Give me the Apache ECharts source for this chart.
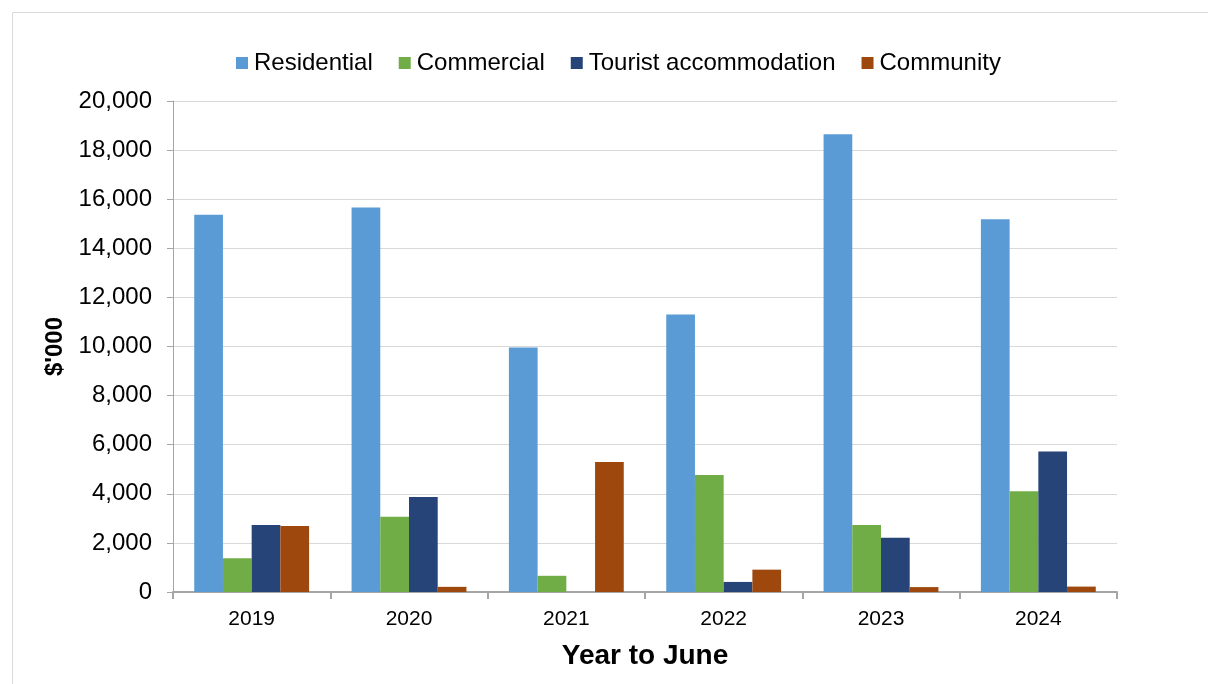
<!DOCTYPE html>
<html>
<head>
<meta charset="utf-8">
<title>Contributions by type, year to June</title>
<script src="https://cdn.jsdelivr.net/npm/echarts@6/dist/echarts.min.js"></script>
<style>
  html, body { margin: 0; padding: 0; background: #ffffff; }
  #chart { width: 1208px; height: 684px; }
</style>
</head>
<body>
<div id="chart"></div>
<script>
// Years (to June) along the category axis
const years = ['2019', '2020', '2021', '2022', '2023', '2024'];

// Values in $'000
const residential = [15370, 15660, 9960, 11300, 18650, 15180];
const commercial = [1370, 3070, 660, 4770, 2730, 4100];
const tourist = [2730, 3870, 0, 410, 2210, 5720];
const community = [2690, 210, 5300, 910, 200, 220];

const seriesNames = ['Residential', 'Commercial', 'Tourist accommodation', 'Community'];
const seriesColors = ['#5b9bd5', '#70ad47', '#264478', '#9e480e'];
const seriesValues = [residential, commercial, tourist, community];

const FONT = '"Liberation Sans", Arial, sans-serif';

const chart = echarts.init(document.getElementById('chart'), null, { renderer: 'canvas' });

chart.setOption({
  animation: false,
  backgroundColor: '#ffffff',
  textStyle: { fontFamily: FONT, color: '#000000' },
  graphic: [{
    type: 'rect',
    shape: { x: 12.5, y: 12.5, width: 1300, height: 800 },
    style: { fill: 'none', stroke: '#d9d9d9', lineWidth: 1 },
    silent: true,
    z: -1
  }],
  legend: {
    top: 46,
    left: 231,
    itemWidth: 12,
    itemHeight: 12,
    itemGap: 26,
    icon: 'rect',
    textStyle: { fontFamily: FONT, fontSize: 24, color: '#000000', padding: [0, 0, 0, 1] },
    data: seriesNames
  },
  grid: { left: 173, right: 91, top: 101, bottom: 92, containLabel: false },
  xAxis: {
    type: 'category',
    data: years,
    name: 'Year to June',
    nameLocation: 'middle',
    nameGap: 50,
    nameTextStyle: { fontFamily: FONT, fontSize: 28, fontWeight: 'bold', color: '#000000' },
    axisLine: { show: true, lineStyle: { color: '#a6a6a6', width: 2 } },
    axisTick: { show: true, length: 7, lineStyle: { color: '#a6a6a6', width: 2 } },
    axisLabel: { fontFamily: FONT, fontSize: 21, color: '#000000', margin: 17 }
  },
  yAxis: {
    type: 'value',
    min: 0,
    max: 20000,
    interval: 2000,
    name: "$'000",
    nameLocation: 'middle',
    nameGap: 103,
    nameRotate: 90,
    nameTextStyle: { fontFamily: FONT, fontSize: 24, fontWeight: 'bold', color: '#000000' },
    axisLine: { show: true, lineStyle: { color: '#a6a6a6', width: 1 } },
    axisTick: { show: true, length: 6, lineStyle: { color: '#a6a6a6' } },
    axisLabel: {
      fontFamily: FONT, fontSize: 24, color: '#000000', margin: 21,
      formatter: v => v.toLocaleString('en-US')
    },
    splitLine: { show: true, lineStyle: { color: '#d9d9d9', width: 1 } }
  },
  series: seriesNames.map((name, i) => ({
    name: name,
    type: 'bar',
    data: seriesValues[i],
    barGap: '0%',
    barCategoryGap: '27%',
    itemStyle: { color: seriesColors[i] }
  }))
});
</script>
</body>
</html>
